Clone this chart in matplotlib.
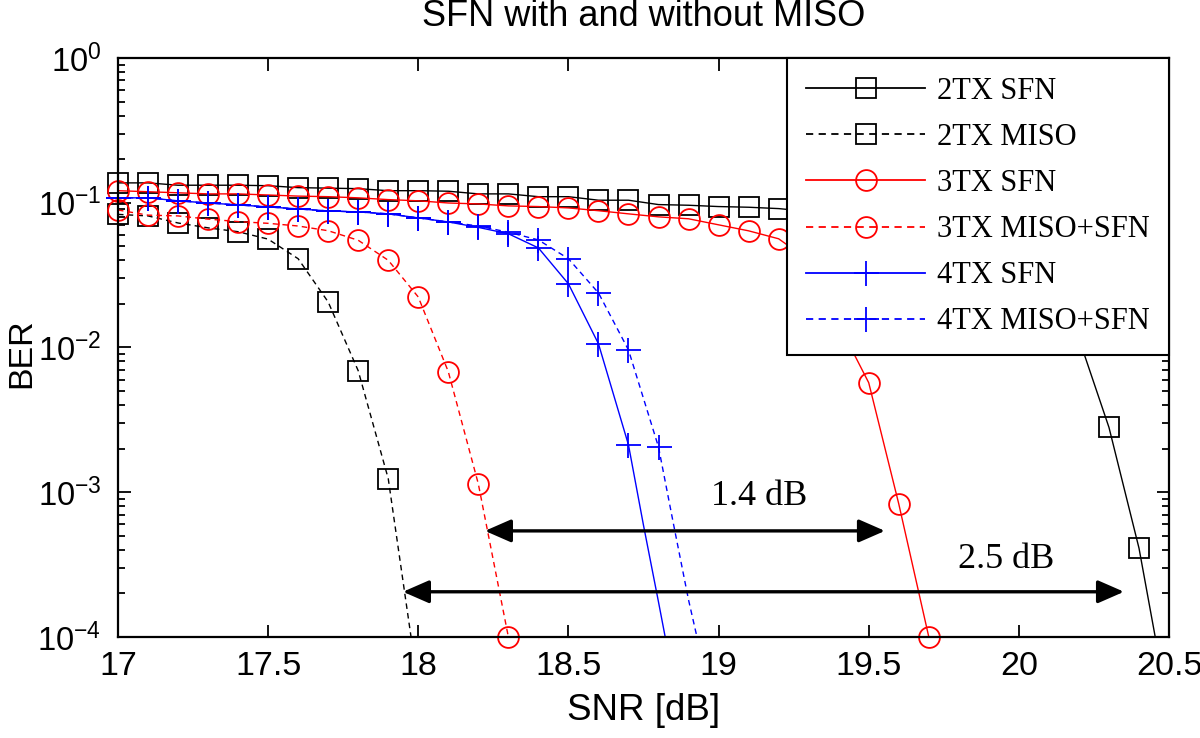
import numpy as np
import matplotlib.pyplot as plt
from matplotlib.ticker import LogLocator, NullFormatter

plt.rcParams['font.family'] = ['Liberation Sans', 'DejaVu Sans']
plt.rcParams['axes.unicode_minus'] = False

# SNR grid of the simulation (dB)
snr_2tx_sfn = [17.0, 17.1, 17.2, 17.3, 17.4, 17.5, 17.6, 17.7, 17.8, 17.9,
               18.0, 18.1, 18.2, 18.3, 18.4, 18.5, 18.6, 18.7, 18.8, 18.9,
               19.0, 19.1, 19.2, 19.3, 19.4, 19.5, 19.6, 19.7, 19.8, 19.9,
               20.0, 20.1, 20.2, 20.3, 20.4, 20.5]
ber_2tx_sfn = [0.137, 0.137, 0.132, 0.132, 0.132, 0.131, 0.127, 0.126, 0.125, 0.121,
               0.121, 0.120, 0.115, 0.115, 0.110, 0.110, 0.104, 0.104, 0.097, 0.096,
               0.094, 0.093, 0.091, 0.087, 0.082, 0.076, 0.068, 0.058, 0.047, 0.036,
               0.026, 0.018, 0.0115, 0.0028, 0.00041, 0.00003]

snr_2tx_miso = [17.0, 17.1, 17.2, 17.3, 17.4, 17.5, 17.6, 17.7, 17.8, 17.9, 18.0]
ber_2tx_miso = [0.083, 0.081, 0.0724, 0.067, 0.063, 0.056, 0.041, 0.0206, 0.0069, 0.00124, 0.000045]

snr_3tx_sfn = [17.0, 17.1, 17.2, 17.3, 17.4, 17.5, 17.6, 17.7, 17.8, 17.9,
               18.0, 18.1, 18.2, 18.3, 18.4, 18.5, 18.6, 18.7, 18.8, 18.9,
               19.0, 19.1, 19.2, 19.3, 19.4, 19.5, 19.6, 19.7]
ber_3tx_sfn = [0.121, 0.119, 0.117, 0.115, 0.115, 0.113, 0.111, 0.110, 0.108, 0.105,
               0.103, 0.0995, 0.098, 0.095, 0.094, 0.092, 0.088, 0.0837, 0.0798, 0.0774,
               0.0703, 0.0639, 0.0563, 0.040, 0.0145, 0.0057, 0.00083, 0.0001]

snr_3tx_miso = [17.0, 17.1, 17.2, 17.3, 17.4, 17.5, 17.6, 17.7, 17.8, 17.9,
                18.0, 18.1, 18.2, 18.3]
ber_3tx_miso = [0.089, 0.082, 0.081, 0.077, 0.074, 0.072, 0.069, 0.064, 0.055, 0.040,
                0.0223, 0.0068, 0.00114, 0.0001]

snr_4tx_sfn = [17.0, 17.1, 17.2, 17.3, 17.4, 17.5, 17.6, 17.7, 17.8, 17.9,
               18.0, 18.1, 18.2, 18.3, 18.4, 18.5, 18.6, 18.7]
ber_4tx_sfn = [0.108, 0.108, 0.103, 0.0995, 0.0965, 0.0935, 0.0905, 0.0877, 0.0863, 0.0837,
               0.0785, 0.0736, 0.0675, 0.061, 0.0487, 0.0275, 0.0106, 0.00212]
# curve continues below the last marked point
snr_4tx_sfn_tail = [18.75, 18.8, 18.85]
ber_4tx_sfn_tail = [0.00059, 0.000174, 0.00005]

snr_4tx_miso = [17.0, 17.1, 17.2, 17.3, 17.4, 17.5, 17.6, 17.7, 17.8, 17.9,
                18.0, 18.1, 18.2, 18.3, 18.4, 18.5, 18.6, 18.7, 18.8]
ber_4tx_miso = [0.108, 0.108, 0.103, 0.0995, 0.0965, 0.0935, 0.0905, 0.0877, 0.0863, 0.0837,
                0.0785, 0.0736, 0.069, 0.0625, 0.0553, 0.041, 0.0238, 0.0096, 0.00205]
snr_4tx_miso_tail = [18.85, 18.9, 18.95]
ber_4tx_miso_tail = [0.0006, 0.00018, 0.000063]

labels = ['2TX SFN', '2TX MISO', '3TX SFN', '3TX MISO+SFN', '4TX SFN', '4TX MISO+SFN']

# gap arrows: (left SNR, right SNR, BER level), text: (SNR, BER, string)
gap_arrows = [(18.222, 19.554, 5.4e-4), (17.949, 20.35, 2.05e-4)]
gap_texts = [(19.134, 8.2e-4, '1.4 dB'), (19.957, 3.0e-4, '2.5 dB')]

ymin, ymax = 1e-4, 1e0

fig = plt.figure(figsize=(12, 7.38), dpi=100)
ax = fig.add_axes([0.0983, 0.137, 0.8759, 0.7845])

series = [
    (snr_2tx_sfn, ber_2tx_sfn, [], [], 'k', '-', 's', 15),
    (snr_2tx_miso, ber_2tx_miso, [], [], 'k', (0, (4, 3)), 's', 15),
    (snr_3tx_sfn, ber_3tx_sfn, [], [], '#ff0000', '-', 'o', 15),
    (snr_3tx_miso, ber_3tx_miso, [], [], '#ff0000', (0, (4, 3)), 'o', 15),
    (snr_4tx_sfn, ber_4tx_sfn, snr_4tx_sfn_tail, ber_4tx_sfn_tail, '#0000ff', '-', '+', 18),
    (snr_4tx_miso, ber_4tx_miso, snr_4tx_miso_tail, ber_4tx_miso_tail, '#0000ff', (0, (4, 3)), '+', 18),
]

handles = []
for (x, y, xt, yt, c, ls, mk, ms), lab in zip(series, labels):
    x = np.array(x)
    y = np.array(y)
    ax.plot(np.concatenate([x, xt]), np.concatenate([y, yt]), color=c, ls=ls, lw=1.0)
    keep = y >= ymin * 0.999
    ax.plot(x[keep], y[keep], ls='none', marker=mk, ms=ms, mfc='none', mec=c,
            mew=1.3, clip_on=False)
    h, = ax.plot([], [], color=c, ls=ls, lw=1.3, marker=mk, ms=ms, mfc='none',
                 mec=c, mew=1.3, label=lab)
    handles.append(h)

for x0, x1, yv in gap_arrows:
    ax.annotate('', xy=(x0, yv), xytext=(x1, yv),
                arrowprops=dict(arrowstyle='<|-|>,head_length=1.6,head_width=0.7',
                                mutation_scale=10, lw=2.4, color='k',
                                shrinkA=0, shrinkB=0), zorder=5)
for xv, yv, s in gap_texts:
    ax.text(xv, yv, s, ha='center', va='baseline', fontsize=26,
            family=['Liberation Serif', 'DejaVu Serif'], zorder=5)

ax.set_yscale('log')
ax.set_xlim(17, 20.5)
ax.set_ylim(ymin, ymax)
ax.set_xticks([17, 17.5, 18, 18.5, 19, 19.5, 20, 20.5])
ax.set_xticklabels(['17', '17.5', '18', '18.5', '19', '19.5', '20', '20.5'])
ax.yaxis.set_major_locator(LogLocator(base=10, numticks=10))
ax.yaxis.set_minor_locator(LogLocator(base=10, subs=np.arange(2, 10), numticks=50))
ax.yaxis.set_minor_formatter(NullFormatter())

ax.tick_params(which='both', direction='in', top=True, right=True, width=1.3)
ax.tick_params(axis='x', labelsize=24.5, pad=10)
ax.tick_params(axis='y', labelsize=23.5, pad=12)
ax.tick_params(which='major', length=9)
ax.tick_params(which='minor', length=5)
for sp in ax.spines.values():
    sp.set_linewidth(1.6)

ax.set_title('SFN with and without MISO', fontsize=26, pad=23)
ax.set_xlabel('SNR [dB]', fontsize=26.5, labelpad=8)
ax.set_ylabel('BER', fontsize=24.5)
ax.yaxis.set_label_coords(-0.077, 0.49)

leg = ax.legend(handles=handles, loc='upper right', borderaxespad=0,
                fancybox=False, framealpha=1, edgecolor='k',
                prop={'family': ['Liberation Serif', 'DejaVu Serif'], 'size': 22},
                handlelength=3.9, handletextpad=0.4, borderpad=0.62,
                labelspacing=0.56, numpoints=1)
leg.get_frame().set_linewidth(1.5)
leg.set_zorder(10)

fig.savefig('out.png', dpi=100)
